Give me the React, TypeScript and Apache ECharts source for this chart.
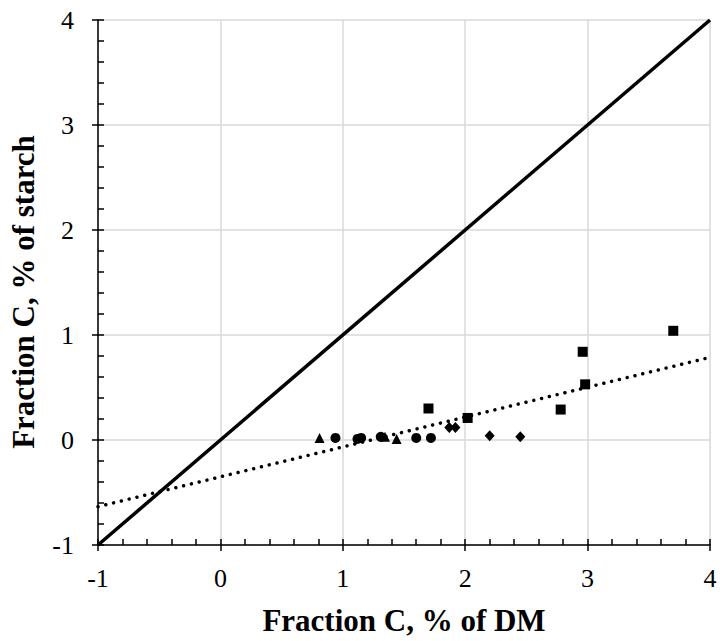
import React, { useEffect, useRef } from "react";
import * as echarts from "echarts";

const xTitle = "Fraction C, % of DM";
const yTitle = "Fraction C, % of starch";
const axisMin = -1;
const axisMax = 4;

const squares: number[][] = [
  [1.70, 0.30], [2.02, 0.21], [2.78, 0.29], [2.96, 0.84], [2.98, 0.53], [3.70, 1.04],
];
const circles: number[][] = [
  [0.94, 0.02], [1.12, 0.01], [1.15, 0.02], [1.31, 0.03], [1.60, 0.02], [1.72, 0.02],
];
const triangles: number[][] = [
  [0.81, 0.02], [1.345, 0.03], [1.44, 0.01],
];
const diamonds: number[][] = [
  [1.87, 0.12], [1.92, 0.12], [2.20, 0.04], [2.45, 0.03],
];
const identityLine: number[][] = [[-1, -1], [4, 4]];
const trendLine: number[][] = [[-1, -0.635], [4, 0.787]];

const FONT = "Liberation Serif";

export default function App() {
  const ref = useRef<HTMLDivElement>(null);
  useEffect(() => {
    if (!ref.current) return;
    const chart = echarts.init(ref.current, null, { renderer: "svg" });
    const mainAxisCommon = {
      type: "value" as const,
      min: axisMin,
      max: axisMax,
      interval: 1,
      axisLine: { show: true, onZero: false, lineStyle: { color: "#000", width: 1.5 } },
      axisTick: { show: true, inside: false, length: 6, lineStyle: { color: "#000", width: 1.5 } },
      splitLine: { show: true, lineStyle: { color: "#d9d9d9", width: 1.5 } },
    };
    const minorAxisCommon = {
      type: "value" as const,
      min: axisMin,
      max: axisMax,
      interval: 0.2,
      axisLine: { show: false, onZero: false },
      axisTick: { show: true, inside: true, length: 6, lineStyle: { color: "#000", width: 1.5 } },
      axisLabel: { show: false },
      splitLine: { show: false },
    };
    const scatterCommon = {
      type: "scatter" as const,
      symbolSize: 10,
      itemStyle: { color: "#000", opacity: 1 },
      emphasis: { disabled: true },
      xAxisIndex: 0,
      yAxisIndex: 0,
      z: 5,
    };
    chart.setOption({
      animation: false,
      backgroundColor: "#fff",
      textStyle: { fontFamily: FONT },
      grid: { left: 98, right: 10, top: 20, bottom: 93, containLabel: false },
      graphic: [
        {
          type: "text",
          x: 23,
          y: 292,
          rotation: Math.PI / 2,
          style: {
            text: yTitle,
            fontFamily: FONT,
            fontSize: 31,
            fontWeight: "bold",
            fill: "#000",
            align: "center",
            verticalAlign: "middle",
          },
        },
      ],
      xAxis: [
        {
          ...mainAxisCommon,
          position: "bottom",
          name: xTitle,
          nameLocation: "middle",
          nameGap: 60,
          nameTextStyle: { fontFamily: FONT, fontSize: 31, fontWeight: "bold", color: "#000" },
          axisLabel: { fontFamily: FONT, fontSize: 26, color: "#000", margin: 20 },
        },
        { ...minorAxisCommon, position: "bottom" },
      ],
      yAxis: [
        {
          ...mainAxisCommon,
          position: "left",
          axisLabel: { fontFamily: FONT, fontSize: 26, color: "#000", margin: 24 },
        },
        { ...minorAxisCommon, position: "left" },
      ],
      series: [
        {
          type: "line",
          name: "1:1",
          data: identityLine,
          symbol: "none",
          lineStyle: { color: "#000", width: 3.5 },
          xAxisIndex: 0,
          yAxisIndex: 0,
          z: 4,
        },
        {
          type: "line",
          name: "Trend",
          data: trendLine,
          symbol: "none",
          lineStyle: { color: "#000", width: 3.5, type: [0.01, 8], cap: "round" },
          xAxisIndex: 0,
          yAxisIndex: 0,
          z: 4,
        },
        { ...scatterCommon, name: "Squares", symbol: "rect", data: squares },
        { ...scatterCommon, name: "Circles", symbol: "circle", data: circles },
        { ...scatterCommon, name: "Triangles", symbol: "triangle", data: triangles },
        { ...scatterCommon, name: "Diamonds", symbol: "diamond", symbolSize: [10, 11], data: diamonds },
      ],
    });
    return () => chart.dispose();
  }, []);
  return (
    <div
      ref={ref}
      style={{ position: "fixed", left: 0, top: 0, width: 720, height: 641 }}
    />
  );
}
